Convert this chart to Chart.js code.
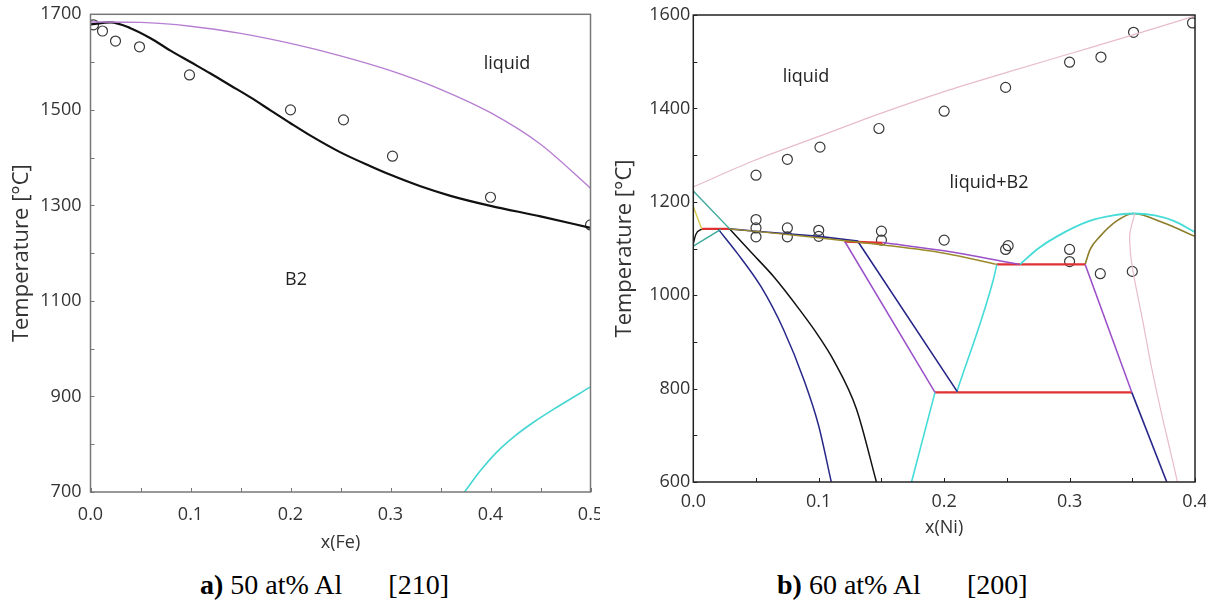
<!DOCTYPE html>
<html>
<head>
<meta charset="utf-8">
<script src="https://cdn.jsdelivr.net/npm/chart.js@4.4.1/dist/chart.umd.min.js"></script>
<style>
  body { margin: 0; background: #fff; width: 1206px; height: 601px; overflow: hidden; position: relative; font-family: "Open Sans", sans-serif; }
  .panel { position: absolute; top: 0; height: 560px; }
  #wrapA { left: 0; width: 600px; }
  #wrapB { left: 603px; width: 603px; }
  .note { position: absolute; font-size: 18px; color: #222; transform: translate(-50%, -50%); white-space: nowrap; }
  .cap { position: absolute; top: 571px; font-family: "Liberation Serif", "Times New Roman", serif; font-size: 28px; line-height: 1; color: #000; white-space: nowrap; }
</style>
</head>
<body>
<div class="panel" id="wrapA"><canvas id="chartA"></canvas></div>
<div class="panel" id="wrapB"><canvas id="chartB"></canvas></div>

<div class="note" style="left:507px; top:62px;">liquid</div>
<div class="note" style="left:296px; top:278px;">B2</div>
<div class="note" style="left:806px; top:75px;">liquid</div>
<div class="note" style="left:989px; top:181px;">liquid+B2</div>

<div class="cap" style="left:200px;"><b>a)</b> 50 at% Al<span style="margin-left:46px">[210]</span></div>
<div class="cap" style="left:777px;"><b>b)</b> 60 at% Al<span style="margin-left:46px">[200]</span></div>

<script>
// ---------- panel a) 50 at% Al, x(Fe) ----------
const XTICKS_A = [0, 0.1, 0.2, 0.3, 0.4, 0.5];
const YTICKS_A = [700, 900, 1100, 1300, 1500, 1700];
const XMINOR_A = [0, 0.05, 0.1, 0.15, 0.2, 0.25, 0.3, 0.35, 0.4, 0.45, 0.5];
const YMINOR_A = [700, 800, 900, 1000, 1100, 1200, 1300, 1400, 1500, 1600, 1700];

const liqA_x = [0, 0.05, 0.1, 0.15, 0.2, 0.25, 0.3, 0.35, 0.4, 0.45, 0.5];
const liqA_T = [1684, 1683, 1675, 1660, 1639, 1613, 1582, 1543, 1494, 1428, 1336];

const solA_x = [0, 0.02, 0.04, 0.06, 0.08, 0.1, 0.12, 0.14, 0.16, 0.18, 0.2, 0.22, 0.25, 0.28, 0.3, 0.33, 0.36, 0.4, 0.45, 0.5];
const solA_T = [1679, 1683, 1671, 1650, 1624, 1600, 1576, 1551, 1526, 1499, 1472, 1446, 1411, 1382, 1364, 1340, 1320, 1299, 1277, 1253];

const cyanA_x = [0.374, 0.39, 0.406, 0.423, 0.443, 0.466, 0.5];
const cyanA_T = [700, 745, 783, 815, 846, 877, 920];

const expA_x = [0.003, 0.012, 0.025, 0.049, 0.099, 0.2, 0.253, 0.302, 0.4, 0.5];
const expA_T = [1678, 1665, 1644, 1632, 1573, 1500, 1479, 1403, 1317, 1259];

// ---------- panel b) 60 at% Al, x(Ni) ----------
const XTICKS_B = [0, 0.1, 0.2, 0.3, 0.4];
const YTICKS_B = [600, 800, 1000, 1200, 1400, 1600];
const XMINOR_B = [0, 0.05, 0.1, 0.15, 0.2, 0.25, 0.3, 0.35, 0.4];
const YMINOR_B = [600, 700, 800, 900, 1000, 1100, 1200, 1300, 1400, 1500, 1600];

const liqB_x = [0, 0.05, 0.1, 0.15, 0.2, 0.25, 0.3, 0.35, 0.4];
const liqB_T = [1232, 1290, 1340, 1390, 1436, 1477, 1517, 1557, 1598];

const pinkR_x = [0.352, 0.348, 0.349, 0.352, 0.358, 0.365, 0.373, 0.38, 0.386];
const pinkR_T = [1175, 1130, 1080, 1030, 950, 850, 750, 670, 600];

const teal1_x = [0, 0.029];       const teal1_T = [1223, 1142];
const teal2_x = [0, 0.022];       const teal2_T = [1105, 1141];
const yel_x = [0, 0.0067];        const yel_T = [1190, 1142];
const blkS_x = [0, 0.002, 0.0067]; const blkS_T = [1110, 1130, 1142];
const red1_x = [0.0067, 0.029];   const red1_T = [1142, 1142];

const olive_x = [0.029, 0.06, 0.1, 0.15, 0.2, 0.242];
const olive_T = [1142, 1134, 1123, 1108, 1090, 1066];

const navyU_x = [0.029, 0.05, 0.1, 0.131, 0.2106];
const navyU_T = [1142, 1137, 1126, 1116, 793];

const purU_x = [0.151, 0.2, 0.26];  const purU_T = [1113, 1095, 1066];
const red2_x = [0.1206, 0.151];     const red2_T = [1115, 1112];
const purD_x = [0.1208, 0.1927];    const purD_T = [1115, 792];
const red3_x = [0.1927, 0.3496];    const red3_T = [792, 792];
const navyR_x = [0.3496, 0.3775];   const navyR_T = [792, 600];
const purR_x = [0.3124, 0.3496];    const purR_T = [1066, 792];
const red4_x = [0.242, 0.3124];     const red4_T = [1066, 1066];
const cyan1_x = [0.21, 0.2392, 0.242]; const cyan1_T = [792, 1033, 1066];
const cyan2_x = [0.1927, 0.174];    const cyan2_T = [792, 600];

const dome_x = [0.2605, 0.275, 0.29, 0.316, 0.335, 0.3507, 0.368, 0.383, 0.4];
const dome_T = [1066, 1100, 1126, 1159, 1171, 1175, 1171, 1159, 1135];

const oliveD_x = [0.3124, 0.3164, 0.3243, 0.3376, 0.3509, 0.3748, 0.4];
const oliveD_T = [1066, 1098, 1126, 1159, 1175, 1155, 1126];

const navyL_x = [0.02, 0.035, 0.0545, 0.072, 0.088, 0.1, 0.11];
const navyL_T = [1141, 1090, 1016, 926, 820, 720, 600];

const blkL_x = [0.029, 0.045, 0.064, 0.085, 0.1, 0.112, 0.13, 0.146];
const blkL_T = [1142, 1095, 1040, 968, 912, 860, 757, 600];

const expB_x = [0.05, 0.075, 0.101, 0.148, 0.2, 0.249, 0.3, 0.325, 0.351, 0.398,
                0.05, 0.05, 0.05, 0.075, 0.075, 0.1, 0.1, 0.15, 0.15, 0.2, 0.251, 0.249, 0.3, 0.3, 0.3245, 0.35];
const expB_T = [1257, 1291, 1317, 1357, 1394, 1445, 1499, 1510, 1563, 1583,
                1162, 1144, 1125, 1144, 1125, 1139, 1126, 1137, 1118, 1118, 1106, 1098, 1098, 1072, 1046, 1051];

// ---------- helpers ----------
const FONT = '"Open Sans", sans-serif';
Chart.defaults.font.family = FONT;

function pts(xs, ys) {
  return xs.map((x, i) => ({ x: x, y: ys[i] }));
}

// smooth: 'mono' for curves running left to right, a number for plain bezier tension
function curve(xs, ys, color, width, smooth) {
  const ds = {
    data: pts(xs, ys),
    showLine: true,
    borderColor: color,
    borderWidth: width,
    pointRadius: 0,
    tension: 0,
    fill: false
  };
  if (smooth === 'mono') {
    ds.cubicInterpolationMode = 'monotone';
  } else if (smooth) {
    ds.tension = smooth;
  }
  return ds;
}

function circles(xs, ys) {
  return {
    data: pts(xs, ys),
    showLine: false,
    pointRadius: 5,
    pointBorderWidth: 1.2,
    borderColor: '#3a3a3a',
    backgroundColor: 'rgba(0,0,0,0)',
    clip: 0
  };
}

// frame around the plot area plus small inward ticks
const framePlugin = {
  id: 'frame',
  afterDatasetsDraw(chart, args, opts) {
    const { ctx, chartArea: a, scales } = chart;
    ctx.save();
    ctx.strokeStyle = opts.color;
    ctx.lineWidth = 1;
    opts.xMinor.forEach(v => {
      const px = Math.round(scales.x.getPixelForValue(v)) + 0.5;
      ctx.beginPath(); ctx.moveTo(px, a.bottom); ctx.lineTo(px, a.bottom - 4); ctx.stroke();
    });
    opts.yMinor.forEach(v => {
      const py = Math.round(scales.y.getPixelForValue(v)) + 0.5;
      ctx.beginPath(); ctx.moveTo(a.left, py); ctx.lineTo(a.left + 4, py); ctx.stroke();
    });
    ctx.lineWidth = opts.width;
    ctx.strokeRect(a.left, a.top, a.right - a.left, a.bottom - a.top);
    ctx.restore();
  }
};

function makeOptions(cfg) {
  return {
    responsive: true,
    maintainAspectRatio: false,
    animation: false,
    devicePixelRatio: 1,
    layout: { padding: { left: 0, top: cfg.padTop, right: cfg.padRight, bottom: 0 } },
    plugins: {
      legend: { display: false },
      tooltip: { enabled: false },
      frame: { color: cfg.frameColor, width: cfg.frameWidth, xMinor: cfg.xMinor, yMinor: cfg.yMinor }
    },
    scales: {
      x: {
        type: 'linear', min: cfg.xMin, max: cfg.xMax,
        afterBuildTicks: s => { s.ticks = cfg.xTicks.map(v => ({ value: v })); },
        afterFit: s => { s.height = cfg.xAxisH; s.paddingLeft = 0; s.paddingRight = 0; },
        grid: { display: false, drawTicks: false },
        border: { display: false },
        ticks: { autoSkip: false, maxRotation: 0, padding: cfg.xTickPad, color: '#333', font: { size: 18 },
                 callback: v => v.toFixed(1) },
        title: { display: true, text: cfg.xTitle, color: '#333', font: { size: 18 },
                 padding: { top: 0, bottom: cfg.xTitlePad } }
      },
      y: {
        type: 'linear', min: cfg.yMin, max: cfg.yMax,
        afterBuildTicks: s => { s.ticks = cfg.yTicks.map(v => ({ value: v })); },
        afterFit: s => { s.width = cfg.yAxisW; s.paddingTop = 0; s.paddingBottom = 0; },
        grid: { display: false, drawTicks: false },
        border: { display: false },
        ticks: { autoSkip: false, padding: cfg.yTickPad, color: '#333', font: { size: 18 },
                 callback: v => String(v) },
        title: { display: true, text: 'Temperature [°C]', color: '#333', font: { size: 22 },
                 padding: { top: 9, bottom: 0 } }
      }
    }
  };
}

new Chart(document.getElementById('chartA'), {
  type: 'scatter',
  data: {
    datasets: [
      curve(cyanA_x, cyanA_T, '#45d6d2', 1.6, 'mono'),
      curve(liqA_x, liqA_T, '#b77fd2', 1.4, 'mono'),
      curve(solA_x, solA_T, '#111111', 2.2, 'mono'),
      circles(expA_x, expA_T)
    ]
  },
  options: makeOptions({
    padTop: 14.3, padRight: 9.5, yAxisW: 90.5, xAxisH: 68,
    xMin: 0, xMax: 0.5, yMin: 700, yMax: 1700,
    xTicks: XTICKS_A, yTicks: YTICKS_A, xMinor: XMINOR_A, yMinor: YMINOR_A,
    xTickPad: 12, yTickPad: 9, xTitle: 'x(Fe)', xTitlePad: 6,
    frameColor: '#777777', frameWidth: 1.5
  }),
  plugins: [framePlugin]
});

new Chart(document.getElementById('chartB'), {
  type: 'scatter',
  data: {
    datasets: [
      curve(liqB_x, liqB_T, '#e7bccb', 1.2, 'mono'),
      curve(pinkR_x, pinkR_T, '#e7bccb', 1.2, 0.3),
      curve(teal1_x, teal1_T, '#3aa89a', 1.4),
      curve(teal2_x, teal2_T, '#3aa89a', 1.4),
      curve(yel_x, yel_T, '#d6c850', 1.4),
      curve(blkS_x, blkS_T, '#111111', 1.4, 'mono'),
      curve(olive_x, olive_T, '#9a8a2a', 1.5, 'mono'),
      curve(navyU_x, navyU_T, '#27278a', 1.6),
      curve(purU_x, purU_T, '#9b50c8', 1.5, 'mono'),
      curve(purD_x, purD_T, '#9b50c8', 1.5),
      curve(purR_x, purR_T, '#9b50c8', 1.5),
      curve(navyR_x, navyR_T, '#27278a', 1.6),
      curve(navyL_x, navyL_T, '#27278a', 1.5, 'mono'),
      curve(blkL_x, blkL_T, '#111111', 1.5, 'mono'),
      curve(cyan1_x, cyan1_T, '#45dcd8', 1.6, 'mono'),
      curve(cyan2_x, cyan2_T, '#45dcd8', 1.6),
      curve(dome_x, dome_T, '#45dcd8', 1.8, 'mono'),
      curve(oliveD_x, oliveD_T, '#8c7c28', 1.6, 'mono'),
      curve(red1_x, red1_T, '#e03030', 2.4),
      curve(red2_x, red2_T, '#e03030', 2.4),
      curve(red3_x, red3_T, '#e03030', 2.4),
      curve(red4_x, red4_T, '#e03030', 2.4),
      circles(expB_x, expB_T)
    ]
  },
  options: makeOptions({
    padTop: 15, padRight: 11, yAxisW: 90.3, xAxisH: 78,
    xMin: 0, xMax: 0.4, yMin: 600, yMax: 1600,
    xTicks: XTICKS_B, yTicks: YTICKS_B, xMinor: XMINOR_B, yMinor: YMINOR_B,
    xTickPad: 9, yTickPad: 3, xTitle: 'x(Ni)', xTitlePad: 21,
    frameColor: '#222222', frameWidth: 1.5
  }),
  plugins: [framePlugin]
});
</script>
</body>
</html>
